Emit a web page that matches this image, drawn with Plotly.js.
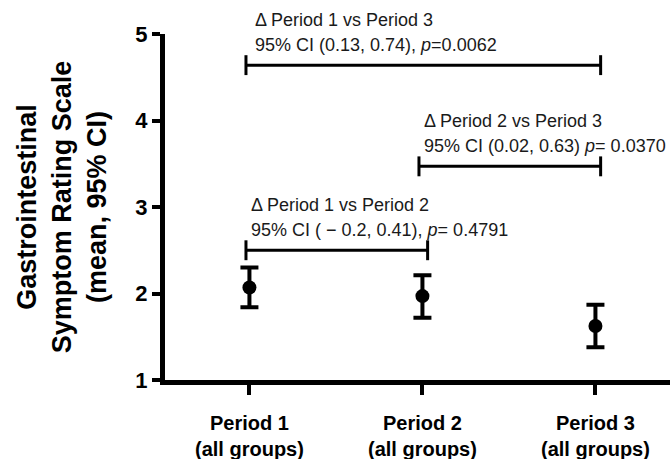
<!DOCTYPE html>
<html>
<head>
<meta charset="utf-8">
<script src="https://cdn.plot.ly/plotly-3.0.1.min.js"></script>
<style>html,body{margin:0;padding:0;background:#fff;}#chart{width:670px;height:459px;}</style>
</head>
<body>
<div id="chart"></div>
<script>
// ---- data ----
const categories = ["Period 1", "Period 2", "Period 3"];
const tickLabels = ["Period 1<br>(all groups)", "Period 2<br>(all groups)", "Period 3<br>(all groups)"];
const means = [2.07, 1.97, 1.625];
const ciUpper = [2.30, 2.21, 1.87];
const ciLower = [1.84, 1.72, 1.38];

const compFrom = [0, 1, 0];
const compTo = [2, 2, 1];
const compY = [4.64, 3.47, 2.50];
const compTitle = ["\u0394 Period 1 vs Period 3", "\u0394 Period 2 vs Period 3", "\u0394 Period 1 vs Period 2"];
const compStats = ["95% CI (0.13, 0.74), <i>p</i>=0.0062", "95% CI (0.02, 0.63) <i>p</i>= 0.0370", "95% CI ( \u2212 0.2, 0.41), <i>p</i>= 0.4791"];

// ---- build ----
const xIdx = categories.map((c, i) => i);
const traces = [];
traces.push({
  type: "scatter", mode: "markers",
  x: xIdx, y: means,
  marker: {color: "#000", size: 14},
  error_y: {
    type: "data", symmetric: false,
    array: means.map((m, i) => ciUpper[i] - m),
    arrayminus: means.map((m, i) => m - ciLower[i]),
    color: "#000", thickness: 4, width: 9
  },
  hoverinfo: "skip", showlegend: false
});

const padL = 0.02, padR = 0.03, tickHalf = 0.115;
const textShiftX = [4, 0, 0];
const annotations = [];
compFrom.forEach((f, k) => {
  const t = compTo[k];
  traces.push({
    type: "scatter", mode: "lines",
    x: [f - padL, t + padR], y: [compY[k], compY[k]],
    line: {color: "#000", width: 3},
    error_y: {type: "data", array: [tickHalf, tickHalf], color: "#000", thickness: 3, width: 0},
    hoverinfo: "skip", showlegend: false
  });
  annotations.push({
    x: f, y: compY[k], xref: "x", yref: "y", xanchor: "left", yanchor: "middle",
    xshift: textShiftX[k], yshift: 45, text: compTitle[k], showarrow: false,
    font: {family: "Liberation Sans, Arial, sans-serif", size: 18, color: "#1a1a1a"}
  });
  annotations.push({
    x: f, y: compY[k], xref: "x", yref: "y", xanchor: "left", yanchor: "middle",
    xshift: textShiftX[k], yshift: 20, text: compStats[k], showarrow: false,
    font: {family: "Liberation Sans, Arial, sans-serif", size: 18, color: "#1a1a1a"}
  });
});

const layout = {
  width: 670, height: 459,
  margin: {l: 165, r: 0, t: 34, b: 79, pad: 0},
  paper_bgcolor: "#fff", plot_bgcolor: "#fff",
  showlegend: false,
  font: {family: "Liberation Sans, Arial, sans-serif", color: "#000"},
  xaxis: {
    range: [-0.488, 2.431],
    tickmode: "array", tickvals: xIdx, ticktext: tickLabels,
    showgrid: false, zeroline: false,
    showline: true, linecolor: "#000", linewidth: 5,
    ticks: "outside", ticklen: 10, tickwidth: 4, tickcolor: "#000",
    tickfont: {family: "Liberation Sans, Arial, sans-serif", size: 20, color: "#000", weight: "bold"},
    ticklabelstandoff: 11
  },
  yaxis: {
    range: [1, 5],
    tickmode: "array", tickvals: [1, 2, 3, 4, 5],
    showgrid: false, zeroline: false,
    showline: true, linecolor: "#000", linewidth: 5,
    ticks: "outside", ticklen: 8, tickwidth: 4, tickcolor: "#000",
    tickfont: {family: "Liberation Sans, Arial, sans-serif", size: 22, color: "#000", weight: "bold"},
    title: {
      text: "Gastrointestinal<br>Symptom Rating Scale<br>(mean, 95% CI)",
      font: {family: "Liberation Sans, Arial, sans-serif", size: 27, color: "#000", weight: "bold"},
      standoff: 22
    }
  },
  annotations: annotations
};

Plotly.newPlot("chart", traces, layout, {displayModeBar: false, staticPlot: true});
</script>
</body>
</html>
